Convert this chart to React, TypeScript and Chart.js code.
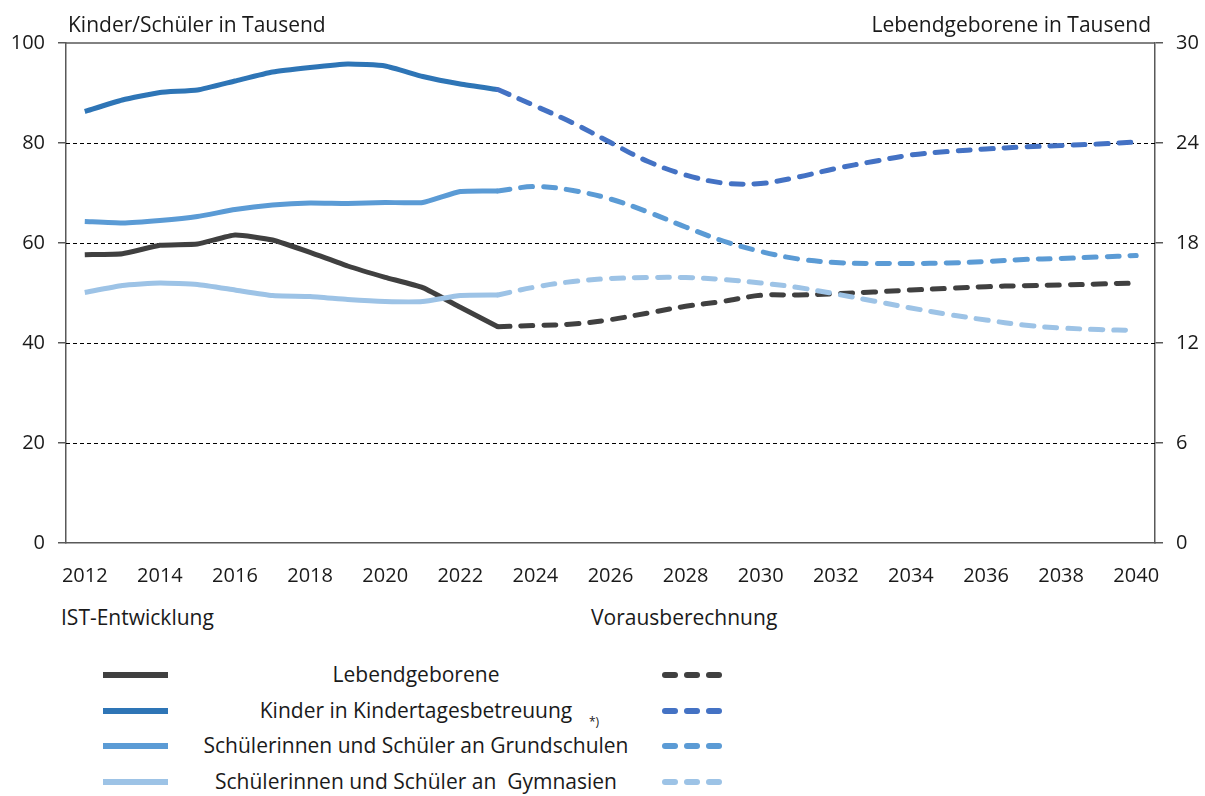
import React, { useEffect, useRef } from 'react';
import { Chart, registerables } from 'chart.js';

Chart.register(...registerables);

const years = [
  2012, 2013, 2014, 2015, 2016, 2017, 2018, 2019, 2020, 2021, 2022, 2023, 2024, 2025, 2026,
  2027, 2028, 2029, 2030, 2031, 2032, 2033, 2034, 2035, 2036, 2037, 2038, 2039, 2040,
];
const lastActualYear = 2023;

// Lebendgeborene in Tausend (right axis)
const lebendgeborene = [
  17.3, 17.36, 17.86, 17.94, 18.48, 18.18, 17.44, 16.62, 15.94, 15.32, 14.14, 12.98, 13.05, 13.14,
  13.4, 13.8, 14.2, 14.5, 14.86, 14.88, 14.96, 15.06, 15.18, 15.28, 15.38, 15.44, 15.48, 15.54, 15.6,
];
// Kinder in Kindertagesbetreuung in Tausend (left axis)
const kita = [
  86.3, 88.6, 90.1, 90.6, 92.4, 94.2, 95.1, 95.8, 95.4, 93.3, 91.8, 90.7, 87.4, 84.0, 80.1, 76.3,
  73.6, 72.0, 71.9, 73.2, 74.9, 76.3, 77.6, 78.3, 78.8, 79.2, 79.5, 79.8, 80.2,
];
// Schülerinnen und Schüler an Grundschulen in Tausend
const grundschulen = [
  64.3, 64.0, 64.5, 65.3, 66.7, 67.6, 68.0, 67.9, 68.1, 68.1, 70.3, 70.4, 71.3, 70.5, 68.8, 66.2,
  63.2, 60.4, 58.3, 56.8, 56.1, 55.9, 55.9, 56.0, 56.3, 56.7, 56.9, 57.2, 57.5,
];
// Schülerinnen und Schüler an Gymnasien in Tausend
const gymnasien = [
  50.1, 51.5, 52.0, 51.7, 50.6, 49.5, 49.3, 48.7, 48.3, 48.3, 49.5, 49.6, 51.2, 52.3, 52.9, 53.1,
  53.1, 52.7, 52.0, 51.1, 49.8, 48.4, 47.0, 45.7, 44.6, 43.6, 43.0, 42.7, 42.5,
];

const leftTicks = [0, 20, 40, 60, 80, 100];
const rightTicks = [0, 6, 12, 18, 24, 30];

const FONT = '"Open Sans", Lato, sans-serif';
const TEXT = '#1a1a1a';
const AXIS = '#595959';

const C_LEBEND = '#404040';
const C_KITA = '#2E75B6';
const C_KITA_D = '#4472C4';
const C_GRUND = '#5B9BD5';
const C_GYM = '#9DC3E6';

const split = (vals: number[]) => ({
  solid: vals.map((v, i) => (years[i] <= lastActualYear ? v : null)),
  dashed: vals.map((v, i) => (years[i] >= lastActualYear ? v : null)),
});

const gridPlugin = {
  id: 'customGrid',
  beforeDatasetsDraw(chart: any) {
    const { ctx, chartArea, scales } = chart;
    ctx.save();
    ctx.strokeStyle = '#000000';
    ctx.lineWidth = 1;
    ctx.setLineDash([4, 3]);
    [20, 40, 60, 80].forEach((v) => {
      const y = Math.round(scales.y.getPixelForValue(v)) + 0.5;
      ctx.beginPath();
      ctx.moveTo(chartArea.left, y);
      ctx.lineTo(chartArea.right, y);
      ctx.stroke();
    });
    ctx.setLineDash([]);
    ctx.strokeStyle = AXIS;
    ctx.lineWidth = 1.5;
    const yt = scales.y.getPixelForValue(100);
    ctx.beginPath();
    ctx.moveTo(chartArea.left, yt);
    ctx.lineTo(chartArea.right, yt);
    ctx.stroke();
    ctx.restore();
  },
};

function ChartCanvas() {
  const ref = useRef<HTMLCanvasElement | null>(null);
  useEffect(() => {
    if (!ref.current) return;
    const L = split(lebendgeborene);
    const K = split(kita);
    const G = split(grundschulen);
    const Y = split(gymnasien);
    const solid = (label: string, data: any[], color: string, axis = 'y') => ({
      label,
      data,
      borderColor: color,
      backgroundColor: color,
      borderWidth: 5,
      pointRadius: 0,
      tension: 0.15,
      yAxisID: axis,
      spanGaps: false,
      borderCapStyle: 'butt',
      borderJoinStyle: 'round',
    });
    const dashed = (label: string, data: any[], color: string, axis = 'y') => ({
      label,
      data,
      borderColor: color,
      backgroundColor: color,
      borderWidth: 5,
      pointRadius: 0,
      tension: 0.35,
      yAxisID: axis,
      spanGaps: false,
      borderDash: [12, 11],
      borderCapStyle: 'round',
      borderJoinStyle: 'round',
    });
    const chart = new Chart(ref.current, {
      type: 'line',
      data: {
        labels: years.map(String),
        datasets: [
          dashed('Gymnasien Prognose', Y.dashed, C_GYM),
          solid('Gymnasien', Y.solid, C_GYM),
          dashed('Lebendgeborene Prognose', L.dashed, C_LEBEND, 'y1'),
          solid('Lebendgeborene', L.solid, C_LEBEND, 'y1'),
          dashed('Grundschulen Prognose', G.dashed, C_GRUND),
          solid('Grundschulen', G.solid, C_GRUND),
          dashed('Kindertagesbetreuung Prognose', K.dashed, C_KITA_D),
          solid('Kindertagesbetreuung', K.solid, C_KITA),
        ] as any,
      },
      options: {
        responsive: false,
        animation: false,
        devicePixelRatio: 1,
        layout: { padding: { top: 43, left: 0, right: 0, bottom: 0 } },
        plugins: { legend: { display: false }, tooltip: { enabled: false } },
        scales: {
          x: {
            type: 'category',
            offset: true,
            grid: { display: false, drawTicks: false },
            border: { display: true, color: AXIS, width: 1.5 },
            ticks: {
              autoSkip: false,
              maxRotation: 0,
              minRotation: 0,
              padding: 21,
              color: TEXT,
              font: { family: FONT, size: 20 },
              callback: (_v: any, i: number) => (years[i] % 2 === 0 ? String(years[i]) : ''),
            },
            afterFit: (s: any) => {
              s.height = 57;
            },
          },
          y: {
            position: 'left',
            min: 0,
            max: 100,
            grid: { display: true, drawOnChartArea: false, drawTicks: true, tickLength: 8, color: AXIS, lineWidth: 1.5 },
            border: { display: true, color: AXIS, width: 1.5 },
            afterBuildTicks: (s: any) => {
              s.ticks = leftTicks.map((v) => ({ value: v }));
            },
            ticks: {
              padding: 13,
              color: TEXT,
              font: { family: FONT, size: 20 },
            },
            afterFit: (s: any) => {
              s.width = 66;
            },
          },
          y1: {
            position: 'right',
            min: 0,
            max: 30,
            grid: { display: true, drawOnChartArea: false, drawTicks: true, tickLength: 8, color: AXIS, lineWidth: 1.5 },
            border: { display: true, color: AXIS, width: 1.5 },
            afterBuildTicks: (s: any) => {
              s.ticks = rightTicks.map((v) => ({ value: v }));
            },
            ticks: {
              padding: 13,
              color: TEXT,
              font: { family: FONT, size: 20 },
            },
            afterFit: (s: any) => {
              s.width = 50;
            },
          },
        },
      } as any,
      plugins: [gridPlugin],
    });
    return () => chart.destroy();
  }, []);
  return <canvas ref={ref} width={1205} height={600} style={{ position: 'absolute', left: 0, top: 0, width: 1205, height: 600 }} />;
}

const legendRows = [
  { label: 'Lebendgeborene', solid: C_LEBEND, dashed: C_LEBEND, note: false },
  { label: 'Kinder in Kindertagesbetreuung', solid: C_KITA, dashed: C_KITA_D, note: true },
  { label: 'Schülerinnen und Schüler an Grundschulen', solid: C_GRUND, dashed: C_GRUND, note: false },
  { label: 'Schülerinnen und Schüler an  Gymnasien', solid: C_GYM, dashed: C_GYM, note: false },
];
const legendY = [675, 711, 746, 782];

const textStyle: React.CSSProperties = {
  position: 'absolute',
  fontFamily: FONT,
  fontSize: 21,
  lineHeight: '26px',
  color: TEXT,
  whiteSpace: 'pre',
};

export default function App() {
  return (
    <div style={{ position: 'absolute', left: 0, top: 0, width: 1205, height: 796, background: '#fff', overflow: 'hidden' }}>
      <ChartCanvas />
      <div style={{ ...textStyle, left: 68, top: 11 }}>Kinder/Schüler in Tausend</div>
      <div style={{ ...textStyle, right: 1205 - 1151, top: 11 }}>Lebendgeborene in Tausend</div>
      <div style={{ ...textStyle, left: 61, top: 604 }}>IST-Entwicklung</div>
      <div style={{ ...textStyle, left: 591, top: 604 }}>Vorausberechnung</div>
      {legendRows.map((r, i) => (
        <React.Fragment key={r.label}>
          <div style={{ position: 'absolute', left: 103, top: legendY[i] - 3, width: 65, height: 6, background: r.solid }} />
          <div style={{ ...textStyle, left: 416, top: legendY[i] - 14, transform: 'translateX(-50%)' }}>{r.label}</div>
          {r.note && (
            <div style={{ ...textStyle, fontSize: 12, lineHeight: '14px', left: 589, top: legendY[i] + 4 }}>*)</div>
          )}
          {[0, 1, 2].map((k) => (
            <div
              key={k}
              style={{
                position: 'absolute',
                left: 662 + k * 22,
                top: legendY[i] - 3,
                width: 16,
                height: 6,
                borderRadius: 3,
                background: r.dashed,
              }}
            />
          ))}
        </React.Fragment>
      ))}
    </div>
  );
}
